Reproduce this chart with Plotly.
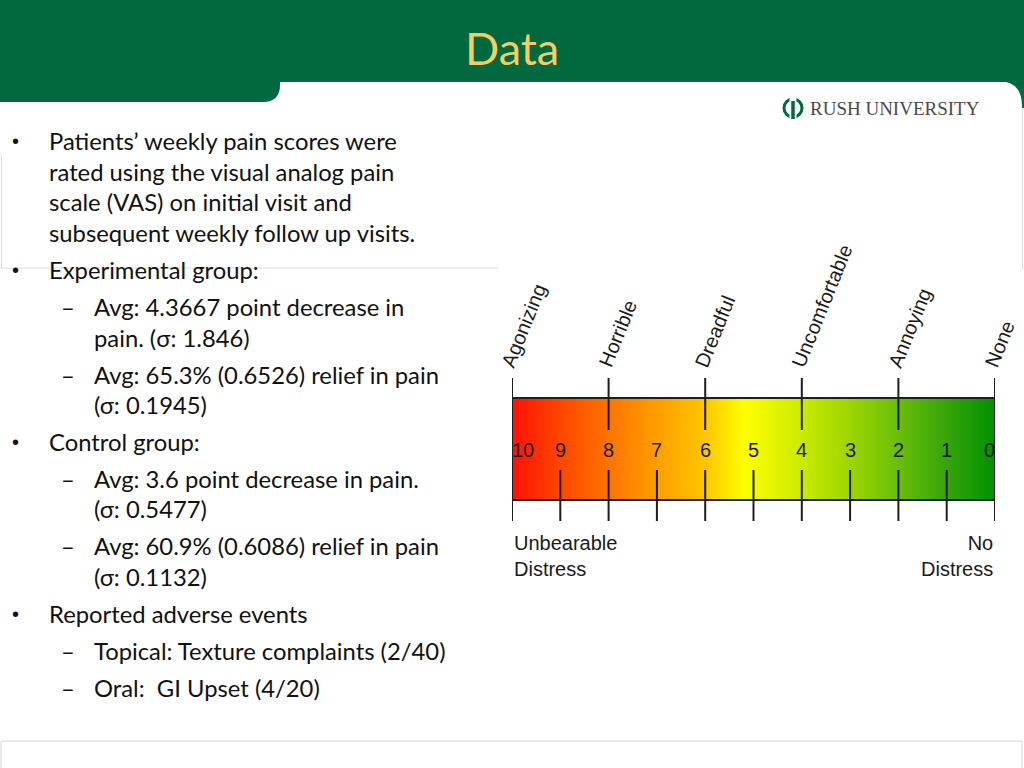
import plotly.graph_objects as go

# ---------------- data ----------------
scale_values = [10, 9, 8, 7, 6, 5, 4, 3, 2, 1, 0]
descriptor_labels = ["Agonizing", "Horrible", "Dreadful", "Uncomfortable", "Annoying", "None"]
descriptor_values = [10, 8, 6, 4, 2, 0]
end_labels = ["Unbearable<br>Distress", "No<br>Distress"]

title_text = "Data"
logo_text = "RUSH UNIVERSITY"

body_lines = [
    "Patients’ weekly pain scores were",
    "rated using the visual analog pain",
    "scale (VAS) on initial visit and",
    "subsequent weekly follow up visits.",
    "Experimental group:",
    "Avg: 4.3667 point decrease in",
    "pain. (σ: 1.846)",
    "Avg: 65.3% (0.6526) relief in pain",
    "(σ: 0.1945)",
    "Control group:",
    "Avg: 3.6 point decrease in pain.",
    "(σ: 0.5477)",
    "Avg: 60.9% (0.6086) relief in pain",
    "(σ: 0.1132)",
    "Reported adverse events",
    "Topical: Texture complaints (2/40)",
    "Oral:  GI Upset (4/20)",
]
body_level = [1, 1, 1, 1, 1, 2, 2, 2, 2, 1, 2, 2, 2, 2, 1, 2, 2]
body_marker = [True, False, False, False, True, True, False, True, False,
               True, True, False, True, False, True, True, True]

# ---------------- layout constants ----------------
line_y = [141, 172, 202, 233, 270, 307, 338, 375, 405, 442, 479, 509, 546, 577, 614, 651, 688]
GREEN = "#02683d"
BODY_FONT = "Lato"
BODY_SIZE = 23.8
W, H = 1024, 768
bar_top, bar_bot = 398, 500
bar_left_px, bar_right_px = 512, 995

fig = go.Figure()

# gradient bar (heatmap on secondary axes)
colorscale = [
    [0.0, "#009100"], [0.1, "#36a40a"], [0.2, "#69be0a"], [0.3, "#9cd500"],
    [0.4, "#cbea00"], [0.52, "#ffff00"], [0.6, "#ffc600"], [0.7, "#ff9e00"],
    [0.8, "#ff7400"], [0.9, "#ff4600"], [1.0, "#ff1208"],
]
fig.add_trace(go.Heatmap(
    x=scale_values, y=[0, 1], z=[scale_values, scale_values],
    zmin=0, zmax=10, colorscale=colorscale, zsmooth="best",
    showscale=False, hoverinfo="skip", xaxis="x2", yaxis="y2",
))

shapes = []
# header
shapes.append(dict(type="rect", xref="x", yref="y", x0=0, x1=W, y0=0, y1=82,
                   fillcolor=GREEN, line_width=0, layer="below"))
shapes.append(dict(type="path", xref="x", yref="y",
                   path="M 0 81 L 280 81 L 280 85 Q 280 102 263 102 L 0 102 Z",
                   fillcolor=GREEN, line_width=0, layer="below"))
shapes.append(dict(type="path", xref="x", yref="y",
                   path="M 998 81 Q 1022 81 1022 106 L 1022 108 L 1024 108 L 1024 81 Z",
                   fillcolor=GREEN, line_width=0, layer="below"))
# faint frame lines
faint = "#dcdcdc"
shapes.append(dict(type="line", xref="x", yref="y", x0=0, x1=498, y0=268, y1=268,
                   line=dict(color=faint, width=1), layer="below"))
shapes.append(dict(type="line", xref="x", yref="y", x0=1.5, x1=1.5, y0=155, y1=268,
                   line=dict(color=faint, width=1), layer="below"))
shapes.append(dict(type="line", xref="x", yref="y", x0=1022.5, x1=1022.5, y0=108, y1=270,
                   line=dict(color=faint, width=1), layer="below"))
shapes.append(dict(type="rect", xref="x", yref="y", x0=1, x1=1022, y0=741, y1=770,
                   line=dict(color="#d6d6d6", width=1), fillcolor="rgba(0,0,0,0)", layer="below"))
# logo icon
shapes.append(dict(type="circle", xref="x", yref="y", x0=784, x1=802, y0=99, y1=117,
                   line=dict(color=GREEN, width=3)))
shapes.append(dict(type="line", xref="x", yref="y", x0=793, x1=793, y0=97, y1=119,
                   line=dict(color="white", width=7)))
shapes.append(dict(type="line", xref="x", yref="y", x0=793, x1=793, y0=101, y1=119,
                   line=dict(color=GREEN, width=3.5)))

# bar border
tick_col = "#1e1e1e"
shapes.append(dict(type="rect", xref="x2", yref="y", x0=scale_values[0], x1=scale_values[-1],
                   y0=bar_top, y1=bar_bot, line=dict(color=tick_col, width=2),
                   fillcolor="rgba(0,0,0,0)"))
# descriptor ticks (top)
for v in descriptor_values:
    shapes.append(dict(type="line", xref="x2", yref="y", x0=v, x1=v, y0=378, y1=430,
                       line=dict(color=tick_col, width=2)))
# numeric ticks (bottom)
for v in scale_values:
    shapes.append(dict(type="line", xref="x2", yref="y", x0=v, x1=v, y0=470, y1=521,
                       line=dict(color=tick_col, width=2)))

annotations = []
# title
annotations.append(dict(text=title_text, xref="x", yref="y", x=512, y=48, showarrow=False,
                        font=dict(family=BODY_FONT, size=45, color="#f2cd68"),
                        xanchor="center", yanchor="middle"))
# logo text
annotations.append(dict(text=logo_text, xref="x", yref="y", x=808, y=108, showarrow=False,
                        font=dict(family="Liberation Serif", size=19, color="#4a4a4a"),
                        xanchor="left", yanchor="middle"))
# body text
for txt, lvl, mk, yy in zip(body_lines, body_level, body_marker, line_y):
    tx = 47 if lvl == 1 else 92
    annotations.append(dict(text=txt, xref="x", yref="y", x=tx, y=yy, showarrow=False,
                            font=dict(family=BODY_FONT, size=BODY_SIZE, color="#111111"),
                            xanchor="left", yanchor="middle"))
    if mk:
        if lvl == 1:
            annotations.append(dict(text="•", xref="x", yref="y", x=15, y=yy, showarrow=False,
                                    font=dict(family="Arial", size=20, color="#111111"),
                                    xanchor="center", yanchor="middle"))
        else:
            annotations.append(dict(text="–", xref="x", yref="y", x=68, y=yy, showarrow=False,
                                    font=dict(family=BODY_FONT, size=BODY_SIZE, color="#111111"),
                                    xanchor="center", yanchor="middle"))
# numbers on the bar
for i, v in enumerate(scale_values):
    if i == 0:
        xa, xs = "left", -2
    elif i == len(scale_values) - 1:
        xa, xs = "right", 2
    else:
        xa, xs = "center", 0
    annotations.append(dict(text=str(v), xref="x2", yref="y", x=v, y=450, showarrow=False,
                            xshift=xs, font=dict(family="Liberation Sans", size=20, color="#1a1a1a"),
                            xanchor=xa, yanchor="middle"))
# descriptors
for lab, v in zip(descriptor_labels, descriptor_values):
    annotations.append(dict(text=lab, xref="x2", yref="y", x=v, y=373, showarrow=False,
                            textangle=-68, xshift=-17,
                            font=dict(family="Liberation Sans", size=20, color="#1a1a1a"),
                            xanchor="left", yanchor="bottom"))
# end labels
annotations.append(dict(text=end_labels[0], xref="x2", yref="y", x=scale_values[0], y=530,
                        showarrow=False, align="left",
                        font=dict(family="Liberation Sans", size=20, color="#1a1a1a"),
                        xanchor="left", yanchor="top"))
annotations.append(dict(text=end_labels[1], xref="x2", yref="y", x=scale_values[-1], y=530,
                        showarrow=False, align="right",
                        font=dict(family="Liberation Sans", size=20, color="#1a1a1a"),
                        xanchor="right", yanchor="top"))

fig.update_layout(
    width=W, height=H, margin=dict(l=0, r=0, t=0, b=0),
    paper_bgcolor="white", plot_bgcolor="rgba(0,0,0,0)",
    showlegend=False,
    xaxis=dict(range=[0, W], domain=[0, 1], visible=False, fixedrange=True),
    yaxis=dict(range=[H, 0], domain=[0, 1], visible=False, fixedrange=True),
    xaxis2=dict(range=[scale_values[0], scale_values[-1]],
                domain=[bar_left_px / W, bar_right_px / W], visible=False,
                anchor="y2", fixedrange=True),
    yaxis2=dict(range=[0, 1], domain=[(H - bar_bot) / H, (H - bar_top) / H],
                visible=False, anchor="x2", fixedrange=True),
    shapes=shapes, annotations=annotations,
)

fig.write_html(
    "out.html",
    config={"displayModeBar": False},
    post_script="document.body.style.margin='0';document.body.style.overflow='hidden';",
)
